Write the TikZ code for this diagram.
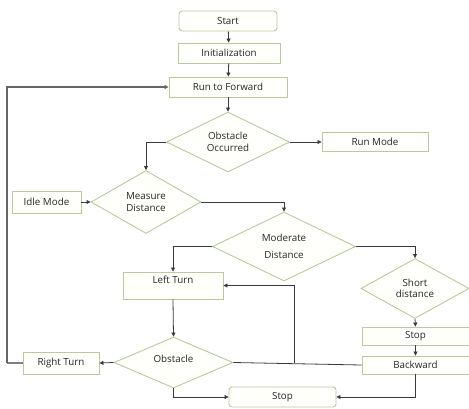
\documentclass[tikz,border=0pt]{standalone}
\usepackage{fontspec}
\setmainfont{Open Sans}
\usetikzlibrary{shapes.geometric,arrows.meta}
\definecolor{bord}{HTML}{B8CA9E}
\definecolor{boxfill}{HTML}{FFFFFC}
\definecolor{conn}{HTML}{3A3A3A}
\tikzset{
  boxst/.style={draw=bord, line width=0.9pt, fill=boxfill, inner sep=0pt, text=black!85, font=\fontsize{9.8}{11.5}\selectfont},
  rbox/.style={boxst, rectangle},
  rrbox/.style={boxst, rectangle, rounded corners=3pt},
  dbox/.style={boxst, diamond, align=center},
  conline/.style={draw=conn, line width=0.8pt},
  arr/.style={conline, -{Triangle[length=4pt,width=4pt]}},
}
\begin{document}
\begin{tikzpicture}[x=1pt,y=-1pt]
\useasboundingbox (0,0) rectangle (469,408);
\node[rrbox, minimum width=98, minimum height=20] (start) at (228,21) {Start};
\node[rbox, minimum width=102, minimum height=20] (init) at (229,53) {Initialization};
\node[rbox, minimum width=118, minimum height=20] (run) at (228,87) {Run to Forward};
\node[dbox, minimum width=123, minimum height=60, aspect=2.05] (occ) at (228,142) {Obstacle\\Occurred};
\node[rbox, minimum width=106, minimum height=19] (runmode) at (375,142) {Run Mode};
\node[dbox, minimum width=110, minimum height=63, aspect=1.75] (measure) at (146,202) {Measure\\Distance};
\node[rbox, minimum width=69, minimum height=22] (idle) at (46.5,202) {Idle Mode};
\node[dbox, minimum width=143, minimum height=69, aspect=2.07] (moderate) at (284,246.5) {Moderate\\[6pt]Distance};
\node[rbox, minimum width=100, minimum height=27, text height=7pt, text depth=11pt] (left) at (173,285.5) {Left Turn};
\node[dbox, minimum width=108, minimum height=60, aspect=1.8] (short) at (415,288.5) {Short\\distance};
\node[rbox, minimum width=107, minimum height=18] (stopa) at (415.5,336) {Stop};
\node[rbox, minimum width=107, minimum height=18] (back) at (415.5,365) {Backward};
\node[dbox, minimum width=119, minimum height=51, aspect=2.33, text depth=8pt] (obst) at (173.5,362.5) {Obstacle};
\node[rbox, minimum width=76, minimum height=22] (right) at (61,363) {Right Turn};
\node[rrbox, minimum width=107, minimum height=20] (stopb) at (282.5,397) {Stop};
\coordinate (br) at (294,363);
\coordinate (lp) at (7,363);

\draw[arr] (start) -- (init);
\draw[arr] (init) -- (run);
\draw[arr] (run) -- (occ);
\draw[arr] (occ.east) -- (runmode.west);
\draw[arr] (occ.west) -| (measure.north);
\draw[arr] (idle.east) -- (measure.west);
\draw[arr] (measure.east) -| (moderate.north);
\draw[arr] (moderate.west) -| (left.north);
\draw[arr] (moderate.east) -| (short.north);
\draw[arr] (short.south) -- (stopa.north);
\draw[arr] (stopa.south) -- (back.north);
\draw[arr] (back.south) |- (stopb.east);
\draw[arr] (left.south) -- (obst.north);
\draw[arr] (obst.west) -- (right.east);
\draw[conline] (obst.east) -- (back.west);
\draw[arr] (br) |- (left.east);
\draw[arr] (obst.south) |- (stopb.west);
\draw[conline, draw=gray, line width=1.2pt] (right.west) -- (lp);
\draw[arr, draw=gray!80!black, line width=1.2pt] (lp) |- (run.west);
\end{tikzpicture}
\end{document}
